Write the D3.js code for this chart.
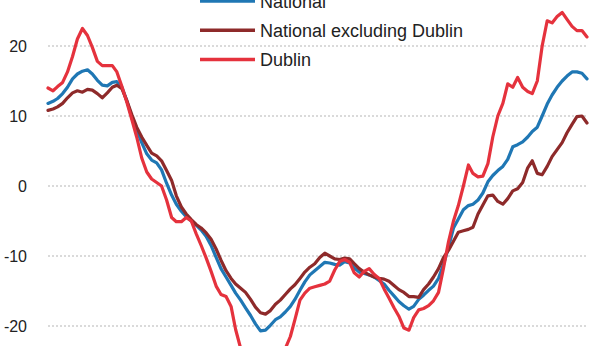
<!DOCTYPE html>
<html>
<head>
<meta charset="utf-8">
<script src="https://cdn.jsdelivr.net/npm/d3@7"></script>
<style>
  html, body { margin: 0; padding: 0; background: #fff; overflow: hidden; }
  svg { display: block; font-family: "Liberation Sans", Arial, Helvetica, sans-serif; }
</style>
</head>
<body>
<svg id="chart" width="616" height="346"></svg>
<script>
// Monthly annual % change, Jan 2006 – Feb 2015
const startMonth = "2006-01";
const seriesNames = ["National", "National excluding Dublin", "Dublin"];
const seriesColors = ["#1f77b4", "#8e2a2a", "#e5323d"];

const national = [
  11.8, 12.1, 12.5, 13.2, 14.1, 15.3, 16.0, 16.4, 16.6, 16.0,
  15.1, 14.4, 14.3, 14.8, 14.9, 14.1, 12.2, 9.8, 8.0, 6.2,
  4.6, 3.7, 3.3, 2.3, 0.4, -1.3, -2.6, -3.6, -4.4, -5.0,
  -5.6, -6.3, -7.2, -8.5, -10.2, -11.8, -13.0, -14.2, -15.3, -16.3,
  -17.4, -18.5, -19.7, -20.7, -20.6, -19.9, -19.1, -18.7, -18.0, -17.2,
  -16.2, -14.9, -13.7, -12.7, -12.1, -11.5, -10.9, -11.0, -11.2, -11.3,
  -10.8, -11.0, -11.7, -12.3, -12.5, -12.7, -13.0, -13.5, -14.0, -14.9,
  -15.7, -16.5, -17.1, -17.6, -17.2, -16.2, -15.6, -14.9, -14.3, -13.2,
  -11.2, -8.8, -6.0, -4.7, -3.4, -2.8, -2.6, -2.0, -1.0, 0.6,
  1.5, 2.2, 2.8, 3.8, 5.6, 5.9, 6.3, 7.0, 7.8, 8.4,
  10.0, 11.7, 13.0, 14.1, 15.0, 15.7, 16.3, 16.3, 16.1, 15.3
];

const nationalExDublin = [
  10.8, 11.0, 11.3, 11.8, 12.6, 13.3, 13.6, 13.4, 13.8, 13.7,
  13.2, 12.6, 13.3, 14.1, 14.4, 13.9, 12.2, 10.2, 8.4, 7.0,
  5.8, 4.7, 4.3, 3.6, 2.2, 0.8, -1.4, -3.0, -4.0, -4.8,
  -5.5, -6.0, -6.7, -7.6, -9.0, -10.6, -12.1, -13.2, -14.0, -14.6,
  -15.2, -16.2, -17.3, -18.1, -18.3, -17.8, -16.9, -16.3, -15.5, -14.7,
  -14.1, -13.2, -12.3, -11.6, -11.1, -10.2, -9.6, -10.0, -10.4, -10.5,
  -10.3, -10.4, -11.1, -11.8, -12.3, -12.7, -13.0, -13.2, -13.3, -13.6,
  -14.2, -14.8, -15.2, -15.8, -15.8, -15.9, -14.8, -14.0, -13.0, -11.8,
  -10.2, -9.2, -7.9, -6.6, -6.4, -6.2, -5.9, -4.0, -2.7, -1.4,
  -1.3, -2.2, -2.6, -1.8, -0.7, -0.4, 0.5, 2.6, 3.6, 1.8,
  1.6, 2.8, 4.2, 5.2, 6.2, 7.6, 8.8, 9.9, 10.0, 9.0
];

const dublin = [
  14.0, 13.6, 14.2, 14.8, 16.3, 18.5, 21.0, 22.5, 21.5, 19.8,
  17.8, 17.2, 17.2, 17.2, 16.3, 14.2, 12.0, 9.5, 7.0, 4.0,
  2.0, 1.0, 0.5, 0.0, -2.0, -4.5, -5.1, -5.1, -4.5, -5.0,
  -6.8, -8.5, -10.3, -12.2, -14.3, -15.5, -15.8, -17.2, -20.5, -23.2,
  -25.0, -26.0, -26.5, -26.8, -26.5, -26.0, -25.5, -24.5, -23.2, -21.5,
  -19.1, -16.3, -15.3, -14.6, -14.4, -14.2, -14.0, -13.6, -12.0, -10.8,
  -10.5, -10.9, -12.4, -13.0, -12.2, -11.8, -12.6, -13.2, -14.7, -16.0,
  -17.4, -18.6, -20.3, -20.6, -18.8, -17.7, -17.5, -17.1, -16.4, -15.2,
  -11.7, -8.0, -5.0, -2.8, 0.0, 3.0, 1.8, 1.3, 1.4, 3.2,
  7.0, 10.0, 11.8, 14.6, 14.1, 15.5, 14.1, 13.5, 13.2, 15.0,
  20.0, 23.6, 23.3, 24.2, 24.8, 23.8, 22.8, 22.2, 22.2, 21.3
];

const yTicks = [20, 10, 0, -10, -20];
const yTickLabels = ["20", "10", "0", "-10", "-20"];

// ---- build
const parseMonth = d3.timeParse("%Y-%m");
const t0 = parseMonth(startMonth);
const dates = national.map((_, i) => d3.timeMonth.offset(t0, i));
const allSeries = [national, nationalExDublin, dublin];

const svg = d3.select("#chart");
const x = d3.scaleTime().domain(d3.extent(dates)).range([48, 587]);
const y = d3.scaleLinear().domain([-20, 20]).range([326, 46]);

// gridlines
svg.append("g").selectAll("line").data(yTicks).join("line")
  .attr("x1", 48).attr("x2", 587)
  .attr("y1", d => y(d)).attr("y2", d => y(d))
  .attr("stroke", "#b5b5b5").attr("stroke-width", 1)
  .attr("stroke-dasharray", "2,2");

// y labels
svg.append("g").selectAll("text").data(yTicks).join("text")
  .attr("x", 27).attr("y", d => y(d)).attr("dy", "0.36em")
  .attr("text-anchor", "end").attr("font-size", 16).attr("fill", "#222")
  .text((d, i) => yTickLabels[i]);

// lines
const line = d3.line().x((d, i) => x(dates[i])).y(d => y(d)).curve(d3.curveLinear);
svg.append("g").selectAll("path").data(allSeries).join("path")
  .attr("d", d => line(d))
  .attr("fill", "none")
  .attr("stroke", (d, i) => seriesColors[i])
  .attr("stroke-width", 3.2)
  .attr("stroke-linejoin", "round")
  .attr("stroke-linecap", "round");

// legend
const leg = svg.append("g").selectAll("g").data(seriesNames).join("g")
  .attr("transform", (d, i) => `translate(0,${1 + i * 29.2})`);
leg.append("line").attr("x1", 200).attr("x2", 255).attr("y1", 0).attr("y2", 0)
  .attr("stroke", (d, i) => seriesColors[i]).attr("stroke-width", 3.5);
leg.append("text").attr("x", 260).attr("y", 6.7)
  .attr("font-size", 18).attr("fill", "#222").text(d => d);
</script>
</body>
</html>
